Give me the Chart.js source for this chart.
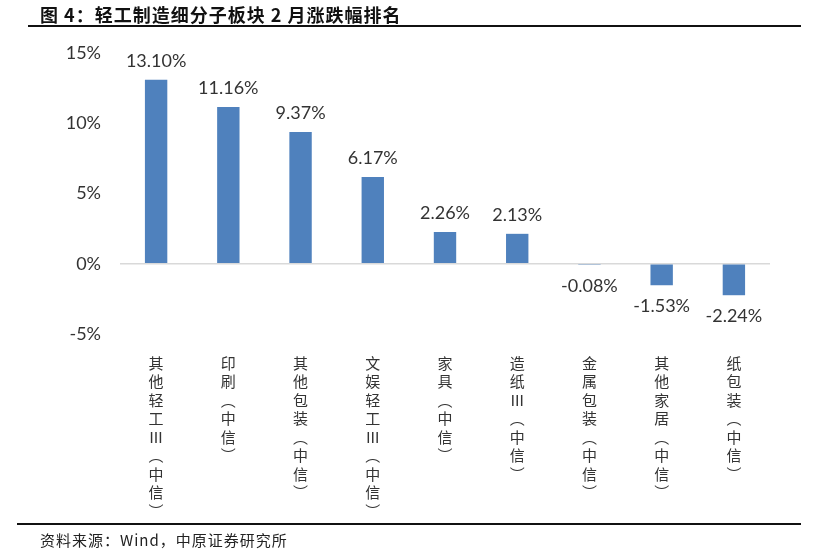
<!DOCTYPE html>
<html lang="zh">
<head>
<meta charset="UTF-8">
<title>轻工制造细分子板块2月涨跌幅排名</title>
<script src="https://cdn.jsdelivr.net/npm/chart.js"></script>
<style>
  body { margin: 0; background: #fff; }
  #wrap { position: relative; width: 823px; height: 553px; overflow: hidden; }
  #title { position: absolute; left: 40px; top: 1px; font: bold 18px "Noto Sans CJK SC", sans-serif; letter-spacing: 1px; color: #111; white-space: nowrap; }
  #line1 { position: absolute; left: 28px; top: 25px; width: 773px; height: 2px; background: #111; }
  #line2 { position: absolute; left: 17px; top: 523px; width: 784px; height: 2px; background: #111; }
  #foot { position: absolute; left: 40px; top: 529px; font: 15px "Noto Sans CJK SC", sans-serif; letter-spacing: 1px; color: #222; white-space: nowrap; }
  #box { position: absolute; left: 0; top: 0; width: 823px; height: 553px; }
</style>
</head>
<body>
<div id="wrap">
  <div id="box"><canvas id="chart"></canvas></div>
  <div id="title">图 4：轻工制造细分子板块 2 月涨跌幅排名</div>
  <div id="line1"></div>
  <div id="line2"></div>
  <div id="foot">资料来源：Wind，中原证券研究所</div>
</div>
<script>
// 分类名称（竖排，每个字一行）
var categories = ['其他轻工Ⅲ︵中信︶', '印刷︵中信︶', '其他包装︵中信︶', '文娱轻工Ⅲ︵中信︶',
  '家具︵中信︶', '造纸Ⅲ︵中信︶', '金属包装︵中信︶', '其他家居︵中信︶', '纸包装︵中信︶'];
// 2月涨跌幅 (%)
var changes = [13.10, 11.16, 9.37, 6.17, 2.26, 2.13, -0.08, -1.53, -2.24];
var yTicks = [-5, 0, 5, 10, 15];

var labels = categories.map(function (c) { return Array.from(c); });

var barLabels = {
  id: 'barLabels',
  afterDatasetsDraw: function (chart) {
    var ctx = chart.ctx;
    var meta = chart.getDatasetMeta(0);
    ctx.save();
    ctx.font = '18px Lato, sans-serif';
    ctx.fillStyle = '#333';
    ctx.textAlign = 'center';
    meta.data.forEach(function (bar, i) {
      var v = changes[i];
      var txt = v.toFixed(2) + '%';
      if (v >= 0) {
        ctx.textBaseline = 'bottom';
        ctx.fillText(txt, bar.x, bar.y - 10);
      } else {
        ctx.textBaseline = 'top';
        ctx.fillText(txt, bar.x, bar.y + 12);
      }
    });
    ctx.restore();
  }
};

var ctx = document.getElementById('chart').getContext('2d');
var chart = new Chart(ctx, {
  type: 'bar',
  data: {
    labels: labels,
    datasets: [{
      data: changes,
      backgroundColor: '#4F81BD',
      barPercentage: 0.31,
      categoryPercentage: 1
    }]
  },
  options: {
    responsive: true,
    maintainAspectRatio: false,
    animation: false,
    layout: { padding: { top: 53, right: 53, left: 0, bottom: 0 } },
    plugins: { legend: { display: false }, tooltip: { enabled: false } },
    scales: {
      x: {
        grid: { display: false },
        border: { display: false },
        ticks: {
          maxRotation: 0,
          autoSkip: false,
          padding: 12,
          color: '#333',
          font: { family: '"Noto Sans CJK SC", sans-serif', size: 15, lineHeight: 1.23 }
        },
        afterFit: function (s) { s.height = 219; }
      },
      y: {
        min: -5,
        max: 15,
        afterBuildTicks: function (s) { s.ticks = yTicks.map(function (v) { return { value: v }; }); },
        grid: {
          drawTicks: false,
          color: function (c) { return c.tick && c.tick.value === 0 ? '#D9D9D9' : 'rgba(0,0,0,0)'; },
          lineWidth: 1.5
        },
        border: { display: false },
        ticks: {
          padding: 19,
          color: '#333',
          font: { family: 'Lato, sans-serif', size: 18 },
          callback: function (v) { return v + '%'; }
        },
        afterFit: function (s) { s.width = 120; }
      }
    }
  },
  plugins: [barLabels]
});
</script>
</body>
</html>
